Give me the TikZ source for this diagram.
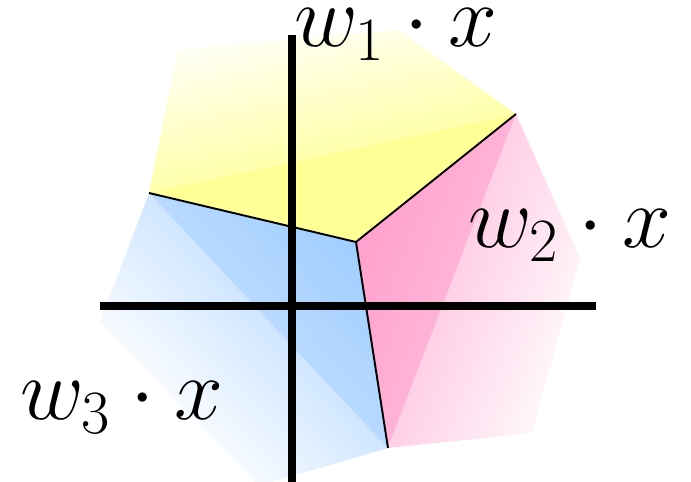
\RequirePackage{fix-cm}
\documentclass[tikz,border=0pt]{standalone}
\definecolor{yelsolid}{RGB}{255,255,150}
\definecolor{pinksolid}{RGB}{255,160,205}
\definecolor{bluesolid}{RGB}{160,205,255}
\begin{document}
\begin{tikzpicture}[x=0.02cm,y=-0.02cm,
    border/.style={line width=1.1pt},
    axis/.style={line width=4pt},
    lbl/.style={font=\fontsize{50}{58}\selectfont,inner sep=0pt,anchor=base west}]
    \useasboundingbox (0,0) rectangle (691,482);

    \coordinate (c)  at (356,242);
    \coordinate (a)  at (149,193);
    \coordinate (b)  at (516,114);
    \coordinate (d)  at (388,448);
    \coordinate (t1) at (178,49);
    \coordinate (t2) at (398,30);
    \coordinate (p1) at (580,258);
    \coordinate (p2) at (532,433);
    \coordinate (l1) at (258,486);
    \coordinate (l2) at (100,322);

    % yellow part, light towards the top
    \begin{scope}
        \clip (a) -- (t1) -- (t2) -- (b) -- (c) -- cycle;
        \begin{scope}[transform canvas={shift={(a)},rotate=102.1}]
            \shade[left color=yelsolid!80!white,right color=yelsolid!8!white]
                (0,-600) rectangle (136,600);
            \fill[yelsolid] (-92,-600) rectangle (0,600);
        \end{scope}
    \end{scope}

    % pink part, light towards the lower right
    \begin{scope}
        \clip (b) -- (p1) -- (p2) -- (d) -- (c) -- cycle;
        \begin{scope}[transform canvas={shift={(b)},rotate=-21}]
            \shade[left color=pinksolid!50!white,right color=pinksolid!8!white]
                (0,-600) rectangle (131,600);
            \shade[left color=pinksolid,right color=pinksolid!80!white]
                (-105,-600) rectangle (0,600);
        \end{scope}
    \end{scope}

    % blue part, light towards the lower left
    \begin{scope}
        \clip (d) -- (l1) -- (l2) -- (a) -- (c) -- cycle;
        \begin{scope}[transform canvas={shift={(a)},rotate=223.1}]
            \shade[left color=bluesolid!50!white,right color=bluesolid!8!white]
                (0,-600) rectangle (126,600);
            \shade[left color=bluesolid,right color=bluesolid!75!white]
                (-119,-600) rectangle (0,600);
        \end{scope}
    \end{scope}

    \draw[border] (a) -- (c);
    \draw[border] (b) -- (c);
    \draw[border] (d) -- (c);

    \coordinate (xl) at (100,306);
    \coordinate (xr) at (596,306);
    \coordinate (yt) at (292,35);
    \coordinate (yb) at (292,482);
    \draw[axis] (xl) -- (xr);
    \draw[axis] (yt) -- (yb);

    \node[lbl] (w1) at (294,47)  {$w_1\cdot x$};
    \node[lbl] (w2) at (468,248) {$w_2\cdot x$};
    \node[lbl] (w3) at (20,420)  {$w_3\cdot x$};
\end{tikzpicture}
\end{document}
